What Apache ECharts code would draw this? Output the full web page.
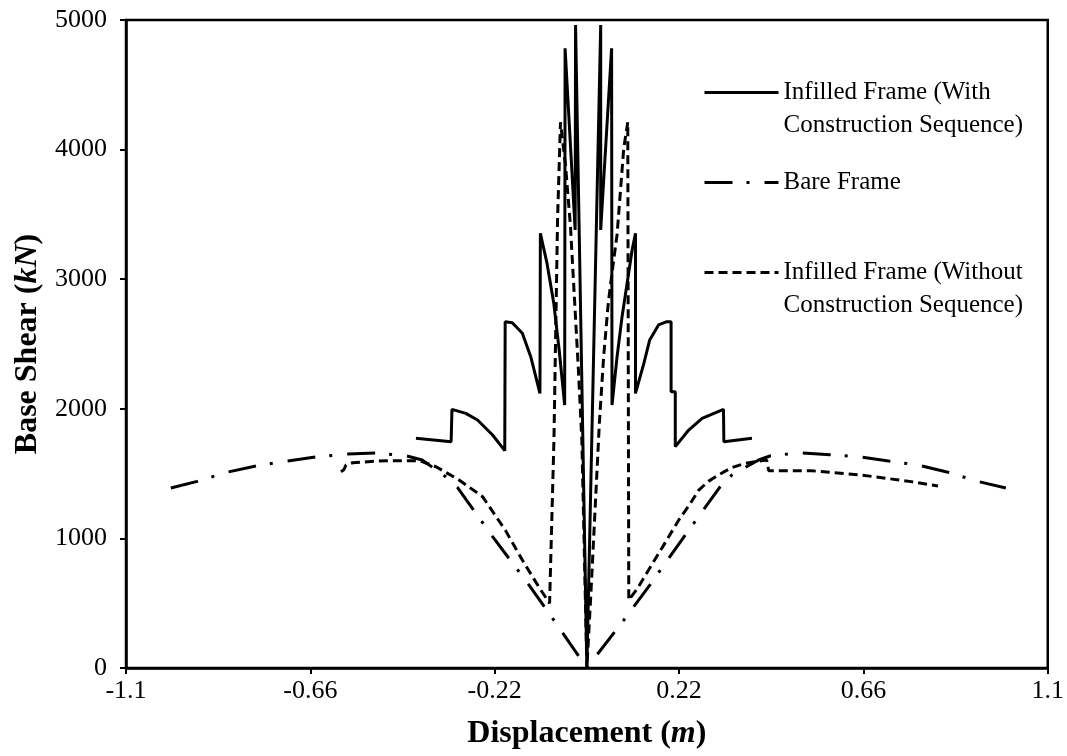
<!DOCTYPE html>
<html>
<head>
<meta charset="utf-8">
<script src="https://cdn.jsdelivr.net/npm/echarts@6/dist/echarts.min.js"></script>
<style>
html,body{margin:0;padding:0;background:#fff;}
#chart{width:1067px;height:756px;}
</style>
</head>
<body>
<div id="chart"></div>
<script>
// Tick labels
const xTicks = [-1.1, -0.66, -0.22, 0.22, 0.66, 1.1];
const yTicks = [0, 1000, 2000, 3000, 4000, 5000];

// Series names
const nameWithCS = 'Infilled Frame (With\nConstruction Sequence)';
const nameBare = 'Bare Frame';
const nameWithoutCS = 'Infilled Frame (Without\nConstruction Sequence)';

// Infilled Frame (With Construction Sequence)
const withCsX = [-0.408, -0.324, -0.322, -0.289, -0.261, -0.225, -0.196, -0.195, -0.178, -0.154, -0.134, -0.112, -0.111, -0.095, -0.079, -0.066, -0.053, -0.052, -0.028, -0.027, 0,
  0.033, 0.033, 0.059, 0.060, 0.072, 0.084, 0.108, 0.116, 0.116, 0.136, 0.150, 0.171, 0.191, 0.201, 0.201, 0.211, 0.211, 0.243, 0.275, 0.326, 0.327, 0.394];
const withCsY = [1772, 1746, 1996, 1965, 1914, 1798, 1677, 2672, 2664, 2583, 2402, 2119, 3354, 3120, 2814, 2450, 2029, 4782, 3380, 4961, 0,
  4961, 3380, 4782, 2029, 2400, 2711, 3225, 3354, 2119, 2350, 2531, 2647, 2672, 2672, 2132, 2132, 1708, 1836, 1927, 1996, 1746, 1772];

// Bare Frame
const bareX = [-0.993, -0.93, -0.857, -0.786, -0.714, -0.643, -0.571, -0.502, -0.43, -0.393, -0.337, -0.309, -0.225, -0.138, -0.079, 0,
  0.088, 0.152, 0.233, 0.317, 0.346, 0.41, 0.437, 0.509, 0.58, 0.648, 0.72, 0.79, 0.862, 0.933, 1.0];
const bareY = [1389, 1440, 1512, 1562, 1597, 1630, 1651, 1660, 1636, 1605, 1476, 1394, 1013, 640, 370, 0,
  370, 648, 1018, 1394, 1489, 1605, 1636, 1661, 1645, 1630, 1597, 1566, 1510, 1440, 1389];

// Infilled Frame (Without Construction Sequence)
const withoutCsX = [-0.587, -0.58, -0.575, -0.559, -0.5, -0.448, -0.4, -0.36, -0.305, -0.249, -0.194, -0.154, -0.115, -0.089, -0.0786, -0.07, -0.063, -0.051, -0.039, -0.0202, -0.012, 0,
  0.01, 0.02, 0.03, 0.04, 0.051, 0.062, 0.072, 0.088, 0.0976, 0.1, 0.12, 0.148, 0.18, 0.219, 0.245, 0.267, 0.29, 0.314, 0.345, 0.378, 0.429, 0.434, 0.536, 0.655, 0.774, 0.838];
const withoutCsY = [1515, 1530, 1566, 1584, 1597, 1600, 1600, 1553, 1451, 1322, 1060, 833, 627, 499, 1760, 3457, 4211, 3881, 3400, 2299, 1760, 0,
  600, 1250, 1900, 2400, 2814, 3100, 3341, 4010, 4211, 525, 610, 760, 930, 1140, 1260, 1373, 1440, 1489, 1545, 1579, 1605, 1522, 1522, 1489, 1438, 1404];

function zip(xs, ys) { return xs.map((x, i) => [x, ys[i]]); }

const FONT = 'Liberation Serif';
const chart = echarts.init(document.getElementById('chart'), null, {renderer: 'canvas'});

chart.setOption({
  backgroundColor: '#ffffff',
  animation: false,
  grid: {
    left: 126, right: 17, top: 20, bottom: 88,
    show: true, borderColor: '#000', borderWidth: 2.5, backgroundColor: 'transparent'
  },
  legend: {
    orient: 'vertical',
    left: 703,
    top: 43,
    padding: 0,
    itemWidth: 74,
    itemHeight: 14,
    itemGap: 24,
    itemStyle: {opacity: 0},
    lineStyle: {width: 3},
    textStyle: {fontFamily: FONT, fontSize: 25, lineHeight: 33, color: '#000'},
    formatter: function (name) {
      return name.indexOf('\n') >= 0 ? ' \n' + name : name;
    },
    data: [nameWithCS, nameBare, nameWithoutCS]
  },
  xAxis: {
    type: 'value',
    min: -1.1,
    max: 1.1,
    name: 'Displacement ({i|m})',
    nameLocation: 'middle',
    nameGap: 50,
    nameTextStyle: {
      fontFamily: FONT, fontSize: 32, fontWeight: 'bold', color: '#000',
      rich: {i: {fontFamily: FONT, fontSize: 32, fontWeight: 'bold', fontStyle: 'italic', color: '#000'}}
    },
    splitLine: {show: false},
    axisLine: {show: true, onZero: false, lineStyle: {color: '#000', width: 2.5}},
    axisTick: {show: true, inside: false, length: 6, lineStyle: {color: '#000', width: 2}, customValues: xTicks},
    axisLabel: {
      show: true, margin: 10, fontFamily: FONT, fontSize: 26, color: '#000',
      customValues: xTicks,
      formatter: function (v) { return String(Math.round(v * 100) / 100); }
    }
  },
  yAxis: {
    type: 'value',
    min: 0,
    max: 5000,
    interval: 1000,
    name: 'Base Shear ({i|kN})',
    nameLocation: 'middle',
    nameRotate: 90,
    nameGap: 80,
    nameTextStyle: {
      fontFamily: FONT, fontSize: 32, fontWeight: 'bold', color: '#000',
      rich: {i: {fontFamily: FONT, fontSize: 32, fontWeight: 'bold', fontStyle: 'italic', color: '#000'}}
    },
    splitLine: {show: false},
    axisLine: {show: true, onZero: false, lineStyle: {color: '#000', width: 2.5}},
    axisTick: {show: true, inside: false, length: 6, lineStyle: {color: '#000', width: 2}, customValues: yTicks},
    axisLabel: {
      show: true, margin: 19, fontFamily: FONT, fontSize: 26, color: '#000',
      customValues: yTicks,
      formatter: function (v) { return String(v); }
    }
  },
  series: [
    {
      name: nameWithCS, type: 'line', data: zip(withCsX, withCsY),
      symbol: 'none', smooth: false, clip: true,
      lineStyle: {color: '#000', width: 3, type: 'solid'},
      itemStyle: {color: '#000'}
    },
    {
      name: nameBare, type: 'line', data: zip(bareX, bareY),
      symbol: 'none', smooth: false, clip: true,
      lineStyle: {color: '#000', width: 3, type: [28, 14, 3, 15]},
      itemStyle: {color: '#000'}
    },
    {
      name: nameWithoutCS, type: 'line', data: zip(withoutCsX, withoutCsY),
      symbol: 'none', smooth: false, clip: true,
      lineStyle: {color: '#000', width: 3, type: [9, 5]},
      itemStyle: {color: '#000'}
    }
  ]
});
</script>
</body>
</html>
